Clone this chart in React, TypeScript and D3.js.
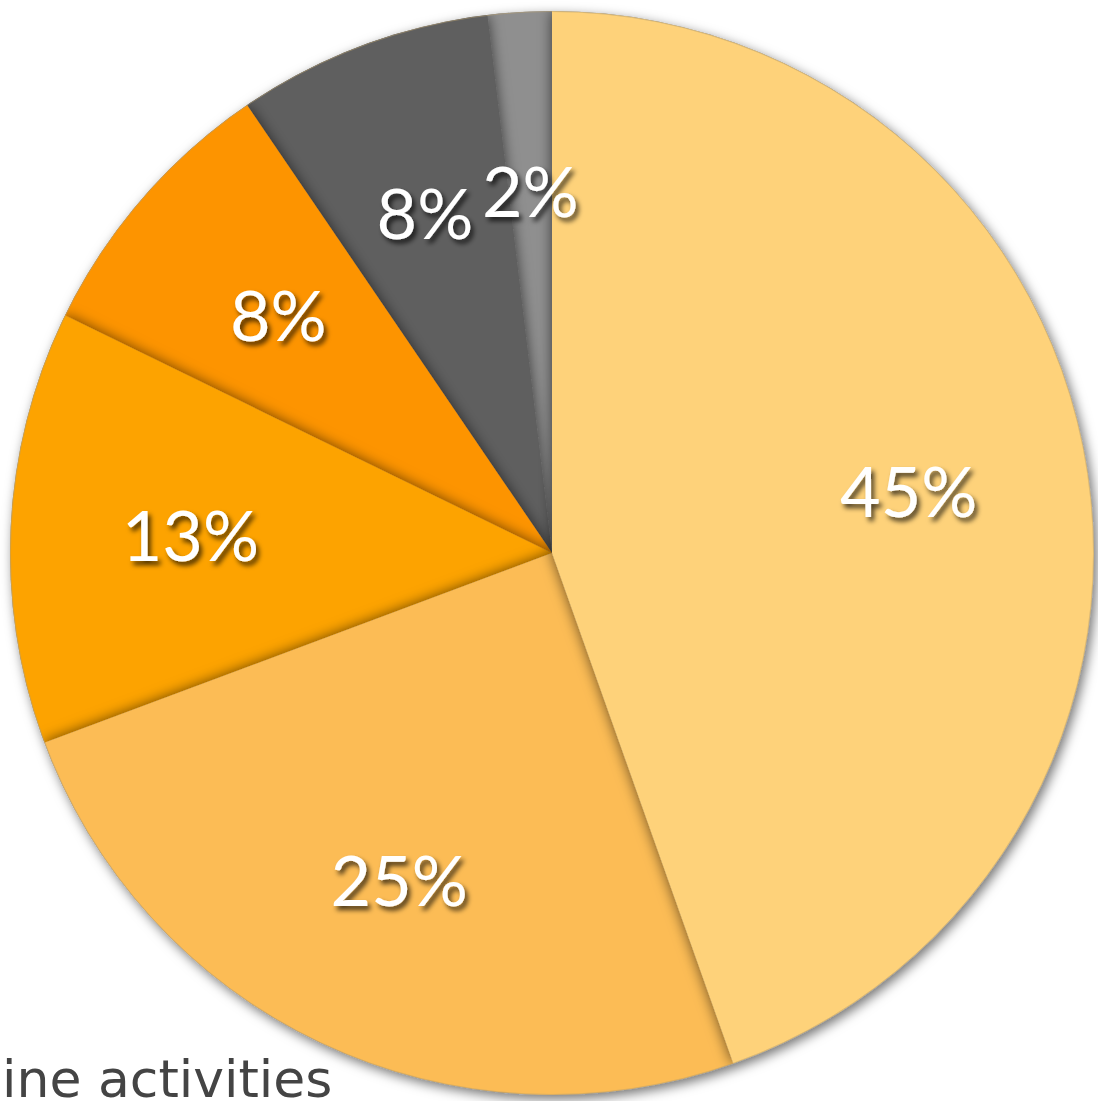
import React from "react";
import * as d3 from "d3";

const labels = ["45%", "25%", "13%", "8%", "8%", "2%"];
const values = [44.5, 24.7, 12.9, 8.25, 7.6, 1.9];
const colors = ["#FED27A", "#FCBC55", "#FDA303", "#FD9400", "#5E5E5E", "#8F8F8F"];
const legendText = "ine activities";

const W = 1098;
const H = 1101;
const CX = 552;
const CY = 553;
const R = 542;

export default function App() {
  const pie = d3.pie<number>().sort(null).value((d) => d);
  const arcs = pie(values);
  const arc = d3.arc<d3.PieArcDatum<number>>().innerRadius(0).outerRadius(R);
  const labelArc = d3.arc<d3.PieArcDatum<number>>().innerRadius(362).outerRadius(362);
  const order = arcs.map((_, i) => i).reverse();
  return (
    <svg width={W} height={H} style={{ position: "absolute", left: 0, top: 0, display: "block" }}>
      <defs>
        <filter id="pieShadow" x="-20%" y="-20%" width="140%" height="140%">
          <feDropShadow dx="3" dy="4" stdDeviation="6" floodColor="#000" floodOpacity="0.55" />
        </filter>
        <filter id="sliceShadow" x="-20%" y="-20%" width="140%" height="140%">
          <feDropShadow dx="0" dy="0" stdDeviation="7" floodColor="#000" floodOpacity="0.6" />
        </filter>
        <filter id="textShadow" x="-20%" y="-20%" width="140%" height="140%">
          <feDropShadow dx="3" dy="4" stdDeviation="2.5" floodColor="#000" floodOpacity="0.7" />
        </filter>
        <clipPath id="pieClip">
          <circle cx={CX} cy={CY} r={R} />
        </clipPath>
      </defs>
      <circle cx={CX} cy={CY} r={R} fill="#999" filter="url(#pieShadow)" />
      <g clipPath="url(#pieClip)">
        <g transform={`translate(${CX},${CY})`}>
          {order.map((i) => (
            <path key={i} d={arc(arcs[i]) || ""} fill={colors[i]} filter="url(#sliceShadow)" />
          ))}
        </g>
      </g>
      <circle cx={CX} cy={CY} r={R - 0.5} fill="none" stroke="#b8a070" strokeOpacity="0.5" strokeWidth="1" />
      <g transform={`translate(${CX},${CY})`}>
        {arcs.map((a, i) => {
          const [x, y] = labelArc.centroid(a);
          return (
            <text
              key={i}
              x={x}
              y={y}
              dy="0.36em"
              textAnchor="middle"
              fill="#fff"
              fontFamily="Lato, 'Open Sans', sans-serif"
              fontSize={70}
              filter="url(#textShadow)"
            >
              {labels[i]}
            </text>
          );
        })}
      </g>
      <text x={2} y={1097} fill="#444" fontFamily="'DejaVu Sans', sans-serif" fontSize={52}>
        {legendText}
      </text>
    </svg>
  );
}
